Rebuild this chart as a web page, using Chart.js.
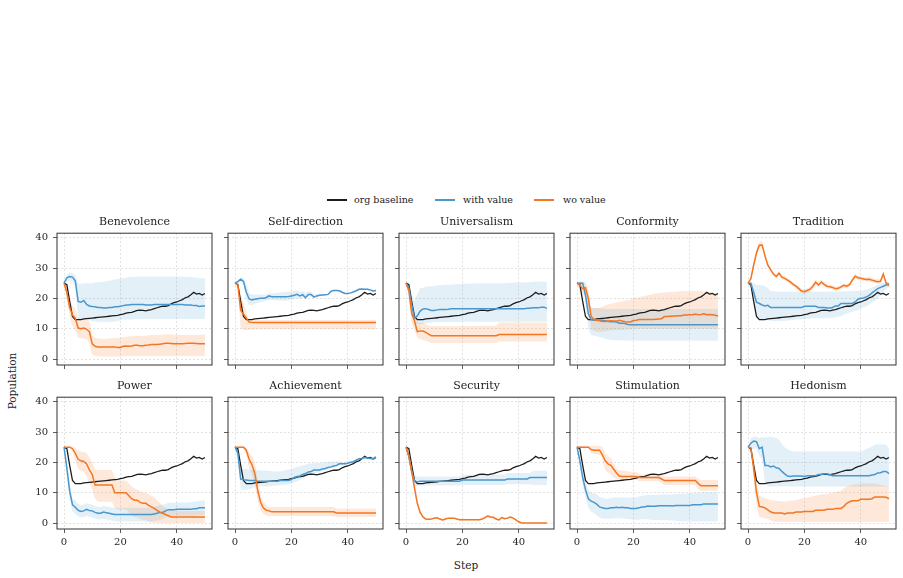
<!DOCTYPE html>
<html>
<head>
<meta charset="utf-8">
<script src="https://cdn.jsdelivr.net/npm/chart.js@4.4.1/dist/chart.umd.min.js"></script>
<style>
  body { margin: 0; background: #fff; }
  #fig { position: relative; width: 903px; height: 578px; overflow: hidden; font-family: 'DejaVu Serif', serif; color: #222; }
  .panel { position: absolute; }
  .lg-line { position: absolute; width: 20px; height: 1.5px; }
  .lg-text { position: absolute; font-size: 9.5px; line-height: 12px; white-space: nowrap; }
  .axis-label { position: absolute; font-size: 10.5px; white-space: nowrap; transform: translate(-50%, -50%); }
</style>
</head>
<body>
<div id="fig">
  <div class="lg-line" style="left:327px; top:199px; background:#1c1c1c"></div>
  <div class="lg-text" style="left:354px; top:194px">org baseline</div>
  <div class="lg-line" style="left:435px; top:199px; background:rgb(74,151,205)"></div>
  <div class="lg-text" style="left:463px; top:194px">with value</div>
  <div class="lg-line" style="left:534px; top:199px; background:rgb(244,118,34)"></div>
  <div class="lg-text" style="left:563px; top:194px">wo value</div>
  <div class="axis-label" style="left:12px; top:381px; transform: translate(-50%, -50%) rotate(-90deg)">Population</div>
  <div class="axis-label" style="left:466px; top:565px">Step</div>
</div>
<script>
// step index 0..50
const steps = Array.from({ length: 51 }, (_, i) => i);
const xTicks = [0, 20, 40];
const yTicks = [0, 10, 20, 30, 40];

// same baseline in every panel
const orgBaseline = [
  25, 24.5, 19, 14, 13, 13, 13, 13.2, 13.3, 13.4,
  13.5, 13.6, 13.7, 13.8, 13.9, 14, 14.1, 14.2, 14.3, 14.4,
  14.6, 14.8, 15.1, 15.3, 15.4, 15.7, 16, 16.1, 16, 15.9,
  16.1, 16.3, 16.6, 16.9, 17.2, 17.4, 17.4, 17.6, 18.2, 18.6,
  18.8, 19.2, 19.6, 20.2, 20.5, 21.2, 22, 21.4, 21.6, 21.1,
  21.6];

// Benevolence
const benWith = [
  25, 26.8, 27.2, 27, 25.8, 19, 18.7, 19.3, 18, 17.5,
  17.3, 17.2, 17, 17, 16.8, 16.8, 17, 17, 17.2, 17.2,
  17.4, 17.6, 17.8, 17.8, 18, 18, 18, 18, 18, 17.8,
  17.8, 17.8, 18, 18, 18, 18, 18, 18, 18, 18,
  18, 18, 18, 17.8, 17.8, 17.8, 17.6, 17.6, 17.3, 17.5,
  17.5];
const benWithLo = [
  25, 25.5, 25.8, 25.5, 23.5, 13, 13, 13, 13, 12.8,
  12.5, 12.4, 12.3, 12.3, 12.2, 12.2, 12.3, 12.3, 12.4, 12.5,
  12.8, 13, 13, 13, 13, 13.1, 13.1, 13.1, 13.2, 13.2,
  13.2, 13.2, 13.2, 13.2, 13.2, 13.2, 13.2, 13.2, 13.2, 13.2,
  13.2, 13.2, 13.2, 13.2, 13.2, 13.2, 13.2, 13.2, 13.2, 13.2,
  13.2];
const benWithHi = [
  25, 27.8, 28.4, 28.3, 27.8, 24.8, 24.8, 25, 25, 25,
  25, 25.2, 25.3, 25.4, 25.5, 25.6, 25.8, 26, 26.3, 26.4,
  26.5, 26.7, 26.8, 27, 27, 27.1, 27.1, 27.2, 27.2, 27.2,
  27.2, 27.2, 27.2, 27.2, 27.2, 27.2, 27.2, 27.2, 27.2, 27.2,
  27.2, 27.2, 27.1, 27.1, 27, 27, 26.9, 26.8, 26.7, 26.6,
  26.6];
const benWo = [
  25, 22, 17, 14.5, 13.4, 10.2, 10, 10.2, 9.8, 9,
  5, 4.2, 4, 4, 4, 4, 4, 4, 4, 3.8,
  3.8, 4.2, 4.3, 4.2, 4.3, 4.5, 4.5, 4.4, 4.4, 4.5,
  4.6, 4.8, 4.8, 4.8, 4.9, 5, 5.2, 5.2, 5.1, 5,
  5, 5, 5, 5.1, 5.2, 5.2, 5.2, 5.1, 5, 5,
  5];
const benWoLo = [
  25, 19.5, 14, 11, 9.5, 7, 6.8, 6.8, 6.5, 5,
  1.5, 1, 0.9, 0.8, 0.8, 0.8, 0.8, 0.8, 0.8, 0.8,
  0.8, 0.9, 1, 1, 1, 1, 1, 1, 1, 1,
  1, 1, 1, 1, 1, 1, 1, 1, 1, 1,
  1, 1, 1, 1, 1, 1, 1, 1, 1, 1,
  1];
const benWoHi = [
  25, 24.5, 20, 17.5, 16.5, 13.5, 13.2, 13.3, 13, 12.5,
  8, 7, 6.8, 6.7, 6.6, 6.6, 6.8, 6.8, 7, 7,
  7, 7.2, 7.3, 7.4, 7.5, 7.5, 7.6, 7.6, 7.6, 7.7,
  7.8, 8, 8, 8, 8, 8, 8.2, 8.2, 8, 8,
  8, 8, 8, 8, 8, 8, 8, 8, 8, 8,
  8];

// Self-direction
const sdWith = [
  25, 25.5, 26.3, 25.6, 22, 19.8, 19.5, 19.7, 19.9, 20,
  20, 20.2, 20.8, 20.5, 20.5, 20.5, 20.5, 20.5, 20.5, 20.6,
  20.8, 21, 21.3, 20.8, 21.2, 20.2, 21.3, 21.3, 20.4, 20.8,
  21, 21.1, 21.2, 21.3, 22.3, 22.6, 22.6, 22.5, 22, 21.6,
  21.6, 21.8, 22.1, 22.5, 23, 23.1, 23, 23, 22.8, 22.4,
  22.6];
const sdWithLo = [
  25, 25, 25.8, 24.5, 19.5, 17.8, 17.8, 18.2, 18.5, 18.8,
  19, 19.2, 19.5, 19.4, 19.4, 19.3, 19.2, 19.2, 19.2, 19.3,
  19.6, 19.8, 20.1, 19.8, 20.2, 19.6, 20.5, 20.6, 20, 20.3,
  20.7, 20.9, 21, 21.1, 22, 22.3, 22.4, 22.3, 21.8, 21.4,
  21.4, 21.6, 21.9, 22.3, 22.7, 22.8, 22.8, 22.7, 22.5, 22.2,
  22.4];
const sdWithHi = [
  25, 26, 26.8, 26.7, 24.5, 21.8, 21.3, 21.3, 21.3, 21.3,
  21.3, 21.3, 21.8, 21.7, 21.7, 21.8, 21.9, 22, 22.2, 22.2,
  22.3, 22.5, 22.6, 22, 22.5, 21.8, 22.3, 22.2, 21.2, 21.4,
  21.4, 21.4, 21.4, 21.5, 22.6, 22.9, 22.8, 22.7, 22.2, 21.8,
  21.8, 22, 22.3, 22.7, 23.2, 23.3, 23.2, 23.2, 23, 22.6,
  22.8];
const sdWo = [
  25, 24.5, 16, 14.8, 13.5, 12.2, 12, 12, 12, 12,
  12, 12, 12, 12, 12, 12, 12, 12, 12, 12,
  12, 12, 12, 12, 12, 12, 12, 12, 12, 12,
  12, 12, 12, 12, 12, 12, 12, 12, 12, 12,
  12, 12, 12, 12, 12, 12, 12, 12, 12, 12,
  12];
const sdWoLo = [
  25, 23.5, 10, 9.6, 9.6, 9.6, 9.7, 9.7, 9.8, 9.8,
  9.8, 9.8, 9.8, 9.8, 9.8, 9.8, 9.8, 9.8, 9.8, 9.8,
  9.8, 9.8, 9.8, 9.8, 9.8, 9.8, 9.8, 9.8, 9.8, 9.8,
  9.8, 9.8, 9.8, 9.8, 9.8, 9.8, 9.8, 9.8, 9.8, 9.8,
  9.8, 9.8, 9.8, 9.8, 9.8, 9.8, 9.8, 9.8, 9.8, 9.8,
  9.8];
const sdWoHi = [
  25, 25, 21, 18.5, 15.5, 13, 12.9, 12.9, 12.9, 12.9,
  12.9, 12.9, 12.9, 12.9, 12.9, 12.9, 12.9, 12.9, 12.9, 12.9,
  12.9, 12.9, 12.9, 12.9, 12.9, 12.9, 12.9, 12.9, 12.9, 12.9,
  12.9, 12.9, 12.9, 12.9, 12.9, 12.9, 12.9, 12.9, 12.9, 12.9,
  12.9, 12.9, 12.9, 12.9, 12.9, 12.9, 12.9, 12.9, 12.9, 12.9,
  12.9];

// Universalism
const uniWith = [
  25, 23.5, 18, 13.5, 14.2, 15.8, 16.5, 16.6, 16.3, 16,
  16, 16.2, 16.3, 16.3, 16.3, 16.4, 16.6, 16.6, 16.6, 16.6,
  16.6, 16.6, 16.6, 16.6, 16.6, 16.6, 16.6, 16.6, 16.6, 16.6,
  16.6, 16.6, 16.6, 16.6, 16.6, 16.6, 16.6, 16.6, 16.6, 16.6,
  16.6, 16.6, 16.6, 16.7, 16.7, 16.9, 16.9, 16.9, 17.1, 17.1,
  16.7];
const uniWithLo = [
  25, 22, 15.5, 12, 11.5, 11.5, 11.6, 11.8, 11.9, 12,
  12.1, 12.1, 12.1, 12.2, 12.2, 12.2, 12.2, 12.2, 12.2, 12.2,
  12.3, 12.3, 12.3, 12.3, 12.3, 12.3, 12.3, 12.3, 12.3, 12.3,
  12.3, 12.3, 12.3, 12.3, 12.3, 12.3, 12.3, 12.3, 12.3, 12.3,
  12.3, 12.3, 12.3, 12.3, 12.3, 12.3, 12.3, 12.3, 12.3, 12.3,
  12.3];
const uniWithHi = [
  25, 25, 21, 19, 21.5, 23.3, 23.5, 23.8, 24, 24,
  24.1, 24.2, 24.3, 24.4, 24.5, 24.5, 24.6, 24.6, 24.7, 24.7,
  24.8, 24.8, 24.8, 24.9, 24.9, 24.9, 25, 25, 25, 25,
  25, 25, 25, 25, 25, 25, 25.1, 25.1, 25.1, 25.2,
  25.2, 25.2, 25.3, 25.3, 25.4, 25.5, 25.5, 25.5, 25.5, 25.5,
  25.4];
const uniWo = [
  25, 22.5, 15, 12.5, 9, 9.2, 9.2, 8.8, 8.2, 7.7,
  7.7, 7.7, 7.7, 7.7, 7.7, 7.7, 7.7, 7.7, 7.7, 7.7,
  7.7, 7.7, 7.7, 7.7, 7.7, 7.7, 7.7, 7.7, 7.7, 7.7,
  7.7, 7.7, 7.7, 8.1, 8.1, 8.1, 8.1, 8.1, 8.1, 8.1,
  8.1, 8.1, 8.1, 8.1, 8.1, 8.1, 8.1, 8.1, 8.1, 8.1,
  8.1];
const uniWoLo = [
  25, 21, 12, 9.5, 7, 6.5, 6.3, 6, 5.6, 5.3,
  5.3, 5.3, 5.3, 5.3, 5.3, 5.3, 5.3, 5.3, 5.3, 5.3,
  5.3, 5.3, 5.3, 5.3, 5.3, 5.3, 5.3, 5.3, 5.3, 5.3,
  5.3, 5.3, 5.3, 5.8, 5.8, 5.8, 5.8, 5.8, 5.8, 5.8,
  5.8, 5.8, 5.8, 5.8, 5.8, 5.8, 5.8, 5.8, 5.8, 5.8,
  5.8];
const uniWoHi = [
  25, 24.5, 19, 16, 12, 12, 12, 11.5, 11, 10.8,
  10.8, 10.8, 10.8, 10.8, 10.8, 10.8, 10.8, 10.8, 10.8, 10.8,
  10.9, 10.9, 10.9, 10.9, 10.9, 10.9, 11, 11, 11, 11,
  11, 11, 11, 12, 12, 12, 12, 12, 12, 12,
  12, 12, 12, 12, 12, 12, 12, 12, 12, 12,
  12];

// Conformity
const conWith = [
  25, 25, 25, 21, 15, 13, 12.8, 12.8, 12.8, 12.8,
  12.6, 12.4, 12.3, 12.3, 12.2, 11.8, 11.8, 11.7, 11.4, 11.3,
  11.3, 11.3, 11.3, 11.3, 11.3, 11.3, 11.3, 11.3, 11.3, 11.3,
  11.3, 11.3, 11.3, 11.3, 11.3, 11.3, 11.3, 11.3, 11.3, 11.3,
  11.3, 11.3, 11.3, 11.3, 11.3, 11.3, 11.3, 11.3, 11.3, 11.3,
  11.3];
const conWithLo = [
  25, 24.5, 24.5, 18.5, 10, 7.8, 7.7, 7.5, 7.2, 7,
  6.6, 6.4, 6.3, 6.2, 6.2, 6.2, 6.2, 6.1, 6, 6,
  6, 6, 6, 6, 6, 6, 6, 6, 6, 6,
  6, 6, 6, 6, 6, 6, 6, 6, 6, 6,
  6, 6, 6, 6, 6, 6, 6, 6, 6, 6,
  6];
const conWithHi = [
  25, 25.5, 25.5, 24, 19, 16.8, 16.8, 16.8, 16.7, 16.6,
  16.5, 16.5, 16.5, 16.5, 16.5, 16.5, 16.5, 16.5, 16.5, 16.5,
  16.5, 16.5, 16.5, 16.5, 16.5, 16.5, 16.5, 16.5, 16.5, 16.5,
  16.5, 16.5, 16.5, 16.5, 16.5, 16.5, 16.5, 16.5, 16.5, 16.5,
  16.5, 16.5, 16.5, 16.5, 16.5, 16.5, 16.5, 16.5, 16.5, 16.5,
  16.5];
const conWo = [
  25, 24.3, 23.2, 23.5, 20, 14, 13, 12.8, 12.6, 12.4,
  12.4, 12.5, 12.6, 12.5, 12.5, 12.8, 12.5, 12.3, 12.2, 12.2,
  12.7, 12.8, 13, 13, 13, 13, 13, 13, 13.1, 13.2,
  13.3, 14, 14, 14.1, 14.2, 14.2, 14.3, 14.3, 14.5, 14.5,
  14.6, 14.6, 14.8, 14.6, 14.7, 14.9, 14.6, 14.7, 14.6, 14.4,
  14.2];
const conWoLo = [
  25, 22.5, 21, 21.5, 17, 10, 9.3, 9, 9, 9,
  9.2, 9.3, 9.4, 9.5, 9.6, 9.6, 9.6, 9.7, 9.7, 9.8,
  10, 10, 10, 10, 10, 10, 10, 10, 10, 10,
  10, 10, 10, 10, 10, 10, 10, 10, 10, 10,
  10, 10, 10, 10, 10, 10, 10, 10, 10, 10,
  10];
const conWoHi = [
  25, 25.5, 25.5, 25.5, 23, 17, 16.8, 16.8, 17, 17.2,
  17.6, 18, 18.2, 18.4, 18.6, 18.8, 19, 19.2, 19.4, 19.6,
  20, 20.2, 20.4, 20.6, 20.8, 21, 21.2, 21.4, 21.6, 21.7,
  21.8, 21.9, 22, 22.1, 22.2, 22.2, 22.3, 22.3, 22.4, 22.4,
  22.4, 22.4, 22.4, 22.4, 22.3, 22.2, 22.1, 22, 21.9, 21.8,
  21.6];

// Tradition
const traWith = [
  25, 25, 22, 18.7, 18.3, 17.8, 17.5, 17.7, 17, 17,
  17, 17, 17, 17, 17, 17, 17, 17, 17, 17,
  17.4, 17.4, 17.4, 17.4, 17.4, 17, 17, 17, 16.8, 16.8,
  17, 17.5, 17.5, 18.3, 18.3, 18.3, 18.3, 18.3, 18.8, 19.7,
  20, 20.1, 20.5, 21, 21.8, 22.5, 23.2, 23.6, 24, 24.4,
  24.8];
const traWithLo = [
  25, 24.5, 19, 13.5, 13.2, 13, 13, 12.9, 12.6, 12.5,
  12.5, 12.5, 12.5, 12.6, 12.7, 12.8, 12.9, 13, 13, 13.1,
  13.2, 13.3, 13.3, 13.4, 13.4, 13.4, 13.4, 13.4, 13.4, 13.4,
  13.5, 13.7, 13.9, 14.2, 14.6, 15, 15.3, 15.6, 15.9, 16.2,
  16.5, 17, 17.5, 18, 18.6, 19.2, 20, 21, 22, 23,
  24];
const traWithHi = [
  25, 25.5, 25, 24.4, 24.4, 24.3, 24, 23.5, 22.5, 22.3,
  22.2, 22.2, 22.2, 22.2, 22.2, 22.2, 22.2, 22.2, 22.2, 22.2,
  22.2, 22.2, 22.2, 22.2, 22.2, 22.2, 22.2, 22.2, 22.2, 22.2,
  22.2, 22.2, 22.2, 22.3, 22.3, 22.3, 22.3, 22.4, 22.4, 22.4,
  22.4, 22.6, 22.8, 23.2, 23.6, 24, 24.5, 24.8, 25.2, 25.4,
  25.5];
const traWo = [
  25, 26.5, 31, 35, 37.5, 37.6, 34, 31, 29.5, 28,
  27.2, 28.3, 27, 26.6, 26, 25.4, 24.6, 24, 23.2, 22.4,
  22.2, 22.6, 23, 24, 25.3, 24.4, 25.4, 24.6, 24, 23.8,
  23.6, 23.2, 23.3, 23.8, 24.3, 24, 24.5, 26, 27.3, 26.8,
  26.6, 26.4, 26.2, 26.3, 26, 25.7, 25.5, 25.6, 28, 25,
  24.2];
const traWoLo = [
  25, 25.8, 30, 33.8, 36.3, 36.4, 33, 30.2, 28.8, 27.3,
  26.5, 27.5, 26.3, 25.9, 25.3, 24.7, 23.9, 23.3, 22.4, 21.6,
  21.4, 21.8, 22.2, 23.1, 24.4, 23.6, 24.6, 23.8, 23.3, 23.1,
  22.9, 22.5, 22.6, 23.1, 23.6, 23.3, 23.8, 25.2, 26.5, 26.1,
  25.9, 25.7, 25.5, 25.6, 25.3, 25, 24.8, 24.9, 27.2, 24.3,
  23.5];
const traWoHi = [
  25, 27.2, 32, 36.2, 38.7, 38.8, 35, 31.8, 30.2, 28.7,
  27.9, 29.1, 27.7, 27.3, 26.7, 26.1, 25.3, 24.7, 24, 23.2,
  23, 23.4, 23.8, 24.9, 26.2, 25.2, 26.2, 25.4, 24.7, 24.5,
  24.3, 23.9, 24, 24.5, 25, 24.7, 25.2, 26.8, 28.1, 27.5,
  27.3, 27.1, 26.9, 27, 26.7, 26.4, 26.2, 26.3, 28.8, 25.7,
  24.9];

// Power
const powWith = [
  25, 18, 10.5, 6, 5.2, 4.2, 3.8, 4, 4.5, 4.1,
  4, 3.5, 3.2, 3.2, 3.6, 3.4, 3.2, 3, 2.8, 2.8,
  2.8, 2.8, 2.8, 2.8, 2.8, 2.8, 2.8, 2.8, 2.8, 2.8,
  2.8, 2.8, 3, 3.2, 3.5, 3.5, 4, 4.4, 4.4, 4.4,
  4.5, 4.5, 4.5, 4.5, 4.5, 4.5, 4.7, 4.7, 5, 5,
  5];
const powWithLo = [
  25, 15.5, 8, 3.8, 3, 2.2, 1.8, 2, 2.3, 2,
  1.8, 1.5, 1.2, 1.2, 1.4, 1.2, 1, 0.8, 0.6, 0.5,
  0.5, 0.5, 0.5, 0.5, 0.5, 0.5, 0.5, 0.5, 0.5, 0.5,
  0.5, 0.5, 0.6, 0.8, 1, 1.3, 1.8, 2.2, 2.3, 2.3,
  2.4, 2.4, 2.4, 2.4, 2.4, 2.4, 2.5, 2.5, 2.6, 2.6,
  2.6];
const powWithHi = [
  25, 20.5, 13, 8.2, 7.4, 6.3, 5.9, 6, 6.6, 6.2,
  6.1, 5.6, 5.3, 5.3, 5.7, 5.5, 5.3, 5.1, 5, 5,
  5, 5, 5, 5, 5, 5, 5, 5, 5, 5,
  5, 5, 5.3, 5.6, 6, 6, 6.3, 6.7, 6.7, 6.7,
  6.7, 6.8, 6.8, 6.8, 6.8, 6.9, 7, 7.1, 7.3, 7.4,
  7.4];
const powWo = [
  25, 25, 25, 24.5, 23, 21, 20.5, 20.3, 19.5, 17.5,
  16, 12.5, 12.5, 12.5, 12.5, 12.5, 12.5, 12.5, 10, 10,
  10, 10, 10, 9, 8, 7.5, 7.5, 6.8, 6.5, 6.5,
  5.8, 5.3, 4.8, 4.2, 3.6, 3.2, 2.8, 2.4, 2, 2,
  2, 2, 2, 2, 2, 2, 2, 2, 2, 2,
  2];
const powWoLo = [
  25, 24.8, 24.8, 23.5, 20.5, 17.8, 17.2, 16.8, 15.5, 13,
  11, 8, 7, 7, 7, 7, 7, 7, 5, 4.5,
  4.5, 4.5, 4.3, 3.5, 2.5, 2, 1.8, 1.3, 1, 1,
  0.5, 0.2, 0, 0, 0, 0, 0, 0, 0, 0,
  0, 0, 0, 0, 0, 0, 0, 0, 0, 0,
  0];
const powWoHi = [
  25, 25.3, 25.3, 25.3, 24.7, 24, 23.5, 23.3, 23, 21.5,
  20, 17.5, 17.5, 17.5, 17.5, 17.5, 17.5, 17.5, 15, 14.5,
  14, 14, 14, 13, 12, 11.5, 11, 10.5, 10, 10,
  9.5, 9, 8.5, 7.5, 6.5, 5.5, 5, 4.5, 4.2, 4,
  4, 4, 4, 4, 4, 4, 4, 4, 4, 4,
  4];

// Achievement
const achWith = [
  25, 23, 14.5, 14.3, 14.2, 14, 14, 14, 13.8, 13.8,
  13.8, 13.8, 13.8, 13.8, 13.8, 13.8, 14, 14, 14, 14,
  14.3, 15, 15.3, 15.5, 16, 16.3, 16.8, 17, 17.5, 17.5,
  17.5, 17.8, 18, 18.3, 18.5, 18.8, 19, 19.5, 19.5, 19.5,
  19.7, 20, 20.2, 20.7, 21.2, 21.3, 21.6, 21.4, 21.3, 21.2,
  21.8];
const achWithLo = [
  25, 21, 11, 11, 11, 11.2, 11.5, 11.8, 12, 12,
  12, 12, 12.1, 12.2, 12.3, 12.4, 12.5, 12.5, 12.6, 12.7,
  13, 13.4, 13.8, 14.2, 14.8, 15.2, 15.6, 16, 16.4, 16.6,
  16.8, 17.2, 17.5, 17.8, 18, 18.3, 18.6, 19, 19, 19.1,
  19.3, 19.6, 19.8, 20.3, 20.8, 20.9, 21.2, 21, 20.9, 20.8,
  21.4];
const achWithHi = [
  25, 25, 18, 17.8, 17.8, 17.6, 17.5, 17.5, 17.4, 17.4,
  17.3, 17.2, 17.2, 17.1, 17, 17, 17, 17.2, 17.4, 17.6,
  17.8, 18.2, 18.5, 18.7, 19, 19.2, 19.5, 19.6, 19.8, 19.8,
  19.8, 19.9, 20, 20.1, 20.2, 20.3, 20.3, 20.4, 20.2, 20.1,
  20.2, 20.4, 20.6, 21.1, 21.6, 21.7, 22, 21.8, 21.7, 21.6,
  22.2];
const achWo = [
  25, 25, 25, 25, 24, 21, 19.2, 16.4, 11, 7,
  5, 4.3, 4, 3.7, 3.7, 3.7, 3.7, 3.7, 3.7, 3.7,
  3.7, 3.7, 3.7, 3.7, 3.7, 3.7, 3.7, 3.7, 3.7, 3.7,
  3.7, 3.7, 3.7, 3.7, 3.7, 3.7, 3.3, 3.3, 3.3, 3.3,
  3.3, 3.3, 3.3, 3.3, 3.3, 3.3, 3.3, 3.3, 3.3, 3.3,
  3.3];
const achWoLo = [
  25, 25, 25, 24.5, 22.5, 18, 16, 12.5, 7.5, 4.5,
  3, 2.5, 2.2, 2.2, 2.2, 2.2, 2.2, 2.2, 2.2, 2.2,
  2.2, 2.2, 2.2, 2.2, 2.2, 2.2, 2.2, 2.2, 2.2, 2.2,
  2.2, 2.2, 2.2, 2.2, 2.2, 2.2, 2, 2, 2, 2,
  2, 2, 2, 2, 2, 2, 2, 2, 2, 2,
  2];
const achWoHi = [
  25, 25.3, 25.3, 25.3, 25, 23.5, 22, 20, 14.5, 9.5,
  7, 6, 5.3, 5.3, 5.3, 5.3, 5.3, 5.3, 5.3, 5.3,
  5.3, 5.3, 5.3, 5.3, 5.3, 5.3, 5.3, 5.3, 5.3, 5.3,
  5.3, 5.3, 5.3, 5.3, 5.3, 5.3, 4.8, 4.8, 4.8, 4.8,
  4.8, 4.8, 4.8, 4.8, 4.8, 4.8, 4.8, 4.8, 4.8, 4.8,
  4.8];

// Security
const secWith = [
  25, 22, 17, 14, 13.5, 13.8, 13.8, 13.8, 13.8, 13.8,
  13.8, 13.8, 13.8, 13.8, 13.8, 13.8, 13.8, 13.8, 13.8, 13.8,
  14.2, 14.2, 14.2, 14.2, 14.2, 14.2, 14.2, 14.2, 14.2, 14.2,
  14.2, 14.2, 14.2, 14.2, 14.2, 14.2, 14.5, 14.5, 14.5, 14.5,
  14.5, 14.5, 14.5, 14.5, 15, 15, 15, 15, 15, 15,
  15];
const secWithLo = [
  25, 21, 15.5, 12, 12, 12.4, 12.4, 12.4, 12.4, 12.4,
  12.4, 12.4, 12.4, 12.4, 12.4, 12.4, 12.4, 12.4, 12.4, 12.4,
  12.5, 12.5, 12.5, 12.5, 12.5, 12.5, 12.5, 12.5, 12.5, 12.5,
  12.5, 12.5, 12.5, 12.5, 12.5, 12.5, 12.8, 12.8, 12.8, 12.8,
  12.8, 12.8, 12.8, 12.8, 12.8, 12.5, 12.5, 12.5, 12.5, 12.5,
  12.5];
const secWithHi = [
  25, 23, 18.5, 15.8, 15.3, 15.3, 15.3, 15.3, 15.3, 15.3,
  15.3, 15.3, 15.3, 15.3, 15.3, 15.3, 15.3, 15.3, 15.3, 15.3,
  15.9, 15.9, 15.9, 15.9, 15.9, 15.9, 15.9, 15.9, 15.9, 15.9,
  15.9, 15.9, 15.9, 15.9, 15.9, 15.9, 16.5, 16.5, 16.5, 16.5,
  16.5, 16.5, 16.5, 16.5, 16.5, 17.2, 17.2, 17.2, 17.2, 17.2,
  17.2];
const secWo = [
  25, 22, 17, 11.5, 6.5, 3.5, 2, 1.3, 1.2, 1.3,
  1.6, 1.7, 1.3, 1, 1.3, 1.6, 1.6, 1.6, 1.3, 1.1,
  1.1, 1.1, 1.1, 1.1, 1.1, 1.1, 1.1, 1.3, 1.8, 2.3,
  2, 1.9, 1.3, 1, 1.8, 1.4, 1.6, 2, 1.6, 1,
  0.4, 0, 0, 0, 0, 0, 0, 0, 0, 0,
  0];
const secWoLo = [
  25, 21.3, 15.8, 10.2, 5.6, 2.9, 1.6, 1, 0.9, 1,
  1.3, 1.4, 1, 0.7, 1, 1.3, 1.3, 1.3, 1, 0.8,
  0.8, 0.8, 0.8, 0.8, 0.8, 0.8, 0.8, 1, 1.4, 1.9,
  1.6, 1.5, 1, 0.7, 1.4, 1.1, 1.3, 1.6, 1.2, 0.7,
  0.2, 0, 0, 0, 0, 0, 0, 0, 0, 0,
  0];
const secWoHi = [
  25, 22.7, 18.2, 12.8, 7.4, 4.1, 2.4, 1.6, 1.5, 1.6,
  1.9, 2, 1.6, 1.3, 1.6, 1.9, 1.9, 1.9, 1.6, 1.4,
  1.4, 1.4, 1.4, 1.4, 1.4, 1.4, 1.4, 1.6, 2.2, 2.7,
  2.4, 2.3, 1.6, 1.3, 2.2, 1.7, 1.9, 2.4, 2, 1.3,
  0.6, 0, 0, 0, 0, 0, 0, 0, 0, 0,
  0];

// Stimulation
const stiWith = [
  25, 20.5, 15, 11, 8, 7.2, 6.8, 6.2, 5.3, 5,
  4.8, 4.8, 5, 5, 5.2, 5, 5.2, 5, 5, 4.8,
  4.8, 4.8, 5, 5.3, 5.3, 5.6, 5.5, 5.5, 5.5, 5.7,
  5.7, 5.7, 5.7, 5.7, 5.6, 5.8, 5.8, 5.8, 5.8, 5.8,
  5.8, 6, 6, 6, 6, 6.3, 6.3, 6.3, 6.3, 6.3,
  6.3];
const stiWithLo = [
  25, 19, 12.5, 8.5, 5, 3.8, 3.2, 2.5, 1.8, 1.5,
  1.4, 1.4, 1.5, 1.5, 1.7, 1.5, 1.6, 1.4, 1.3, 1.2,
  1.1, 1, 1.1, 1.2, 1.2, 1.3, 1.1, 1, 1, 1,
  1, 0.9, 0.9, 0.8, 0.8, 0.7, 0.7, 0.6, 0.6, 0.6,
  0.5, 0.5, 0.5, 0.5, 0.5, 0.5, 0.5, 0.5, 0.5, 0.5,
  0.5];
const stiWithHi = [
  25, 22, 17.5, 13.5, 10.8, 10, 9.8, 9.5, 8.6, 8.3,
  8, 8, 8.3, 8.3, 8.5, 8.3, 8.5, 8.4, 8.4, 8.3,
  8.4, 8.5, 8.7, 9, 9, 9.3, 9.2, 9.2, 9.2, 9.4,
  9.4, 9.4, 9.4, 9.4, 9.4, 9.6, 9.6, 9.7, 9.7, 9.7,
  9.8, 9.9, 10, 10, 10, 10.1, 10.1, 10.1, 10.1, 10.1,
  10.1];
const stiWo = [
  25, 25, 25, 25, 25, 24.2, 24, 24, 24, 22.5,
  20.5, 19.5, 19, 17.8, 16.5, 15.5, 15.3, 15.3, 15.3, 15.3,
  15.3, 15.3, 15, 15, 15, 15, 15, 15, 15, 15,
  14.5, 14, 14, 14, 14, 14, 14, 14, 14, 14,
  14, 14, 14, 13, 12.3, 12.3, 12.3, 12.3, 12.3, 12.3,
  12.3];
const stiWoLo = [
  25, 25, 25, 25, 25, 23, 22.8, 22.5, 22.5, 21,
  17.5, 16.5, 16, 15, 14.5, 14.3, 14.3, 14.3, 14.3, 14.3,
  14.3, 14.3, 13.8, 13.8, 13.8, 13.8, 13.8, 13.8, 13.8, 13.8,
  13, 12.5, 12.5, 12.5, 12.5, 12.5, 12.5, 12.5, 12.5, 12.5,
  12.5, 12.5, 12.5, 11, 10.6, 10.6, 10.6, 10.6, 10.6, 10.6,
  10.6];
const stiWoHi = [
  25, 25.3, 25.3, 25.3, 25.3, 25.5, 25.5, 25.5, 25.5, 25,
  23, 22, 21.5, 19.5, 18, 17.5, 17.3, 17.2, 17, 16.9,
  16.8, 16.8, 16.2, 16, 16, 16, 16, 16, 16, 16,
  15.8, 15.3, 15.3, 15.3, 15.3, 15.3, 15.3, 15.3, 15.3, 15.3,
  15.3, 15.3, 15.3, 14.5, 14.2, 14.2, 14.2, 14.2, 14.2, 14.2,
  14.2];

// Hedonism
const hedWith = [
  25, 26.3, 27, 26.8, 24.5, 25, 19, 19, 18.5, 18.8,
  18.2, 18, 17, 16.2, 15.5, 15.3, 15.5, 15.5, 15.5, 15.5,
  15.3, 15.6, 15.6, 15.6, 15.6, 16, 16, 16.2, 16.2, 16,
  15.6, 15.6, 15.6, 15.6, 15.6, 15.6, 15.6, 15.6, 15.6, 15.6,
  15.6, 15.6, 15.6, 15.6, 15.8, 16, 16.5, 16.6, 17, 17,
  16.3];
const hedWithLo = [
  25, 24, 24.5, 24.5, 22, 21, 13, 12, 12, 12,
  12, 12, 12, 12, 12, 12, 12, 12, 12, 12,
  12, 12, 12, 12, 12, 12, 12, 12, 12, 12,
  12, 12, 12, 12, 12, 12, 12, 12, 12, 12,
  12, 12, 12, 12, 12, 12, 12, 12, 12, 12,
  12];
const hedWithHi = [
  25, 28, 28.4, 28.5, 28, 28.3, 28.2, 28.3, 28.5, 28.3,
  28, 27.5, 26, 25, 24.3, 23.8, 23.6, 23.6, 23.6, 23.6,
  23.6, 23.6, 23.6, 23.6, 23.6, 23.6, 23.6, 23.6, 23.6, 23.6,
  23.6, 23.6, 23.6, 23.6, 23.6, 23.6, 23.6, 23.6, 23.6, 23.6,
  23.6, 24, 24.4, 24.8, 25.2, 25.8, 26, 26, 26, 25.8,
  24.5];
const hedWo = [
  25, 24.8, 18, 10, 5.5, 5.3, 5, 4.3, 3.7, 3.3,
  3.3, 3.3, 3.3, 3, 3.3, 3.3, 3.3, 3.6, 3.6, 3.6,
  3.8, 3.8, 3.8, 3.8, 4.2, 4.2, 4.2, 4.2, 4.5, 4.5,
  4.5, 4.8, 4.8, 4.8, 5.5, 6.5, 7, 7.3, 7.3, 7.3,
  7.8, 7.8, 7.8, 7.8, 8, 8.6, 8.6, 8.6, 8.6, 8.5,
  8];
const hedWoLo = [
  25, 24, 14, 6, 2, 1.8, 1.5, 1.2, 0.8, 0.5,
  0.3, 0.3, 0.3, 0.3, 0.3, 0.3, 0.3, 0.3, 0.3, 0.3,
  0.3, 0.3, 0.3, 0.3, 0.3, 0.3, 0.3, 0.3, 0.3, 0.3,
  0.3, 0.3, 0.3, 0.3, 0.3, 0.3, 0.3, 0.3, 0.3, 0.3,
  0.3, 0.3, 0.3, 0.3, 0.3, 0.3, 0.3, 0.3, 0.3, 0.3,
  0.3];
const hedWoHi = [
  25, 25.5, 22, 14, 9, 8.5, 8.2, 7.8, 7.5, 7.4,
  7.3, 7.2, 7.2, 7, 7.2, 7.3, 7.4, 7.6, 7.8, 8,
  8.2, 8.4, 8.6, 8.8, 9, 9.2, 9.4, 9.5, 9.6, 9.8,
  10, 10.2, 10.4, 10.6, 11.5, 12, 12.4, 12.6, 12.8, 12.8,
  13, 13, 13, 13, 13, 13, 12.8, 12.6, 12.4, 12.2,
  12];

const panels = [
  { title: 'Benevolence', w: benWith, wLo: benWithLo, wHi: benWithHi, o: benWo, oLo: benWoLo, oHi: benWoHi },
  { title: 'Self-direction', w: sdWith, wLo: sdWithLo, wHi: sdWithHi, o: sdWo, oLo: sdWoLo, oHi: sdWoHi },
  { title: 'Universalism', w: uniWith, wLo: uniWithLo, wHi: uniWithHi, o: uniWo, oLo: uniWoLo, oHi: uniWoHi },
  { title: 'Conformity', w: conWith, wLo: conWithLo, wHi: conWithHi, o: conWo, oLo: conWoLo, oHi: conWoHi },
  { title: 'Tradition', w: traWith, wLo: traWithLo, wHi: traWithHi, o: traWo, oLo: traWoLo, oHi: traWoHi },
  { title: 'Power', w: powWith, wLo: powWithLo, wHi: powWithHi, o: powWo, oLo: powWoLo, oHi: powWoHi },
  { title: 'Achievement', w: achWith, wLo: achWithLo, wHi: achWithHi, o: achWo, oLo: achWoLo, oHi: achWoHi },
  { title: 'Security', w: secWith, wLo: secWithLo, wHi: secWithHi, o: secWo, oLo: secWoLo, oHi: secWoHi },
  { title: 'Stimulation', w: stiWith, wLo: stiWithLo, wHi: stiWithHi, o: stiWo, oLo: stiWoLo, oHi: stiWoHi },
  { title: 'Hedonism', w: hedWith, wLo: hedWithLo, wHi: hedWithHi, o: hedWo, oLo: hedWoLo, oHi: hedWoHi }
];

const SERIF = "'DejaVu Serif', serif";
const BLACK = '#1c1c1c';
const BLUE = 'rgb(74,151,205)';
const ORANGE = 'rgb(244,118,34)';
const BLUE_BAND = 'rgba(74,151,205,0.15)';
const ORANGE_BAND = 'rgba(244,118,34,0.17)';

// plot frame positions (px in the figure)
const colLeft = [57, 228, 399, 570, 741];
const rowTop = [233, 397];

const fig = document.getElementById('fig');

// box round the plot area, like matplotlib spines
const framePlugin = {
  id: 'frame',
  afterDatasetsDraw(chart) {
    const { ctx, chartArea: a } = chart;
    ctx.save();
    ctx.strokeStyle = '#333';
    ctx.lineWidth = 1;
    ctx.strokeRect(a.left, a.top, a.width, a.height);
    ctx.restore();
  }
};

const toPoints = arr => arr.map((y, i) => ({ x: steps[i], y }));

function lineSet(data, color, width, order) {
  return { data: toPoints(data), borderColor: color, borderWidth: width, pointRadius: 0, fill: false, tension: 0, order };
}

function bandSets(lo, hi, color) {
  return [
    { data: toPoints(lo), borderWidth: 0, borderColor: 'transparent', pointRadius: 0, fill: false, order: 5 },
    { data: toPoints(hi), borderWidth: 0, borderColor: 'transparent', backgroundColor: color, pointRadius: 0, fill: '-1', order: 5 }
  ];
}

function axisStyle(showLabels) {
  return {
    grid: { color: '#d4d4d4', lineWidth: 0.7, tickLength: 4, tickColor: '#333', tickWidth: 0.8 },
    border: { display: false, dash: [2, 2] },
    ticks: { display: showLabels, color: '#262626', font: { family: SERIF, size: 10 }, maxRotation: 0 }
  };
}

panels.forEach((p, i) => {
  const row = Math.floor(i / 5), col = i % 5;
  const box = document.createElement('div');
  box.className = 'panel';
  const cv = document.createElement('canvas');
  cv.width = 190;
  cv.height = 169;
  box.appendChild(cv);
  fig.appendChild(box);

  const xAxis = axisStyle(row === 1);
  xAxis.ticks.padding = 3;
  const yAxis = axisStyle(col === 0);
  yAxis.ticks.padding = 5;

  const chart = new Chart(cv, {
    type: 'line',
    data: {
      datasets: [
        ...bandSets(p.wLo, p.wHi, BLUE_BAND),
        ...bandSets(p.oLo, p.oHi, ORANGE_BAND),
        lineSet(orgBaseline, BLACK, 1.3, 3),
        lineSet(p.w, BLUE, 1.5, 2),
        lineSet(p.o, ORANGE, 1.5, 1)
      ]
    },
    options: {
      responsive: false,
      animation: false,
      events: [],
      layout: { padding: { left: 0, right: 5, top: 0, bottom: 0 } },
      plugins: {
        legend: { display: false },
        tooltip: { enabled: false },
        filler: { drawTime: 'beforeDatasetsDraw' },
        title: {
          display: true, text: p.title, fullSize: false, color: '#222',
          font: { family: SERIF, size: 11, weight: 'normal' },
          padding: { top: 0, bottom: 4 }
        }
      },
      scales: {
        x: {
          type: 'linear', min: -2.5, max: 52.5,
          afterBuildTicks: s => { s.ticks = xTicks.map(v => ({ value: v })); },
          afterFit: s => { s.height = 20; },
          ...xAxis
        },
        y: {
          min: -1.975, max: 41.475,
          afterBuildTicks: s => { s.ticks = yTicks.map(v => ({ value: v })); },
          afterFit: s => { s.width = 30; },
          ...yAxis
        }
      }
    },
    plugins: [framePlugin]
  });

  const a = chart.chartArea;
  box.style.left = (colLeft[col] - a.left) + 'px';
  box.style.top = (rowTop[row] - a.top) + 'px';
});
</script>
</body>
</html>
